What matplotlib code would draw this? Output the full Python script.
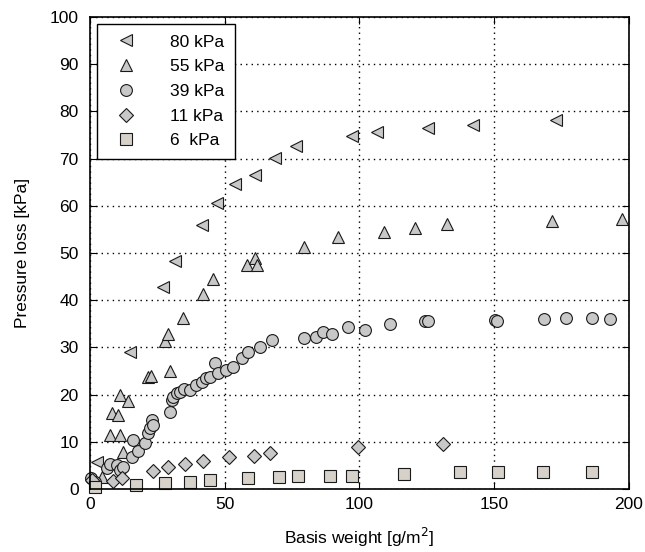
import matplotlib
matplotlib.use('Agg')
import matplotlib.pyplot as plt

plt.rcParams['font.family'] = ['Liberation Sans', 'DejaVu Sans']

# 80 kPa
x80 = [2.5, 14.8, 27.2, 31.5, 41.4, 47.3, 53.8, 61.2, 68.6, 76.3, 97.3, 106.4, 125.5, 142.0, 172.9]
y80 = [5.8, 29.1, 42.9, 48.4, 55.9, 60.6, 64.6, 66.5, 70.1, 72.7, 74.8, 75.7, 76.5, 77.1, 78.2]

# 55 kPa
x55 = [4.3, 7.4, 11.1, 12.4, 8.0, 10.5, 11.1, 14.2, 21.6, 22.5, 29.7, 27.8, 29.1, 34.6, 42.0,
       45.8, 58.1, 61.2, 62.0, 79.4, 91.9, 109.2, 120.6, 132.4, 171.5, 197.3]
y55 = [2.6, 11.4, 11.4, 7.9, 16.0, 15.7, 19.9, 18.7, 23.8, 24.0, 25.0, 31.4, 32.8, 36.2, 41.4,
       44.4, 47.5, 48.9, 47.5, 51.3, 53.3, 54.5, 55.4, 56.1, 56.8, 57.3]

# 39 kPa
x39 = [0.5, 2.0, 6.2, 7.4, 9.9, 11.1, 12.4, 15.5, 16.1, 17.9, 20.4, 21.6, 22.3, 22.9, 23.5,
       29.7, 30.3, 30.8, 32.2, 33.4, 35.0, 37.1, 39.5, 41.4, 43.0, 44.5, 46.4, 47.6, 50.5, 53.2,
       56.3, 58.7, 63.1, 67.4, 79.4, 83.9, 86.6, 89.7, 95.6, 102.0, 111.3, 124.3, 125.5, 150.5,
       151.2, 168.6, 176.5, 186.5, 193.0]
y39 = [2.3, 1.5, 4.5, 5.4, 5.1, 4.0, 4.7, 6.8, 10.4, 8.0, 9.7, 11.8, 12.9, 14.6, 13.5,
       16.4, 18.9, 19.5, 20.3, 20.6, 21.2, 21.0, 22.0, 22.7, 23.5, 23.8, 26.6, 24.5, 25.2, 25.9,
       27.7, 29.1, 30.1, 31.6, 31.9, 32.1, 33.3, 32.8, 34.4, 33.7, 35.0, 35.7, 35.6, 35.8,
       35.7, 36.0, 36.2, 36.3, 36.0]

# 11 kPa
x11 = [0.6, 8.6, 11.8, 23.5, 29.1, 35.2, 42.0, 51.6, 60.9, 66.8, 99.6, 130.9]
y11 = [1.9, 1.6, 2.3, 3.8, 4.7, 5.2, 6.0, 6.7, 7.1, 7.6, 9.0, 9.5]

# 6 kPa
x6 = [1.9, 17.1, 27.8, 37.1, 44.5, 58.7, 70.2, 77.1, 89.1, 97.1, 116.6, 137.3, 151.5, 168.2, 186.2]
y6 = [0.5, 0.8, 1.3, 1.5, 1.9, 2.4, 2.5, 2.8, 2.8, 2.8, 3.2, 3.5, 3.7, 3.5, 3.5]

GRAY = '#c8c8c8'
BEIGE = '#d6d2ca'
EDGE = '#1a1a1a'

fig = plt.figure(figsize=(6.45, 5.52), dpi=100)
ax = fig.add_axes([0.1395, 0.1141, 0.8355, 0.8551])

kw = dict(linestyle='none', markeredgecolor=EDGE, markeredgewidth=0.8, clip_on=False)
ax.plot(x80, y80, marker='<', ms=9, mfc=GRAY, label='80 kPa', **kw)
ax.plot(x55, y55, marker='^', ms=9, mfc=GRAY, label='55 kPa', **kw)
ax.plot(x39, y39, marker='o', ms=8.5, mfc=GRAY, label='39 kPa', **kw)
ax.plot(x11, y11, marker='D', ms=7, mfc=GRAY, label='11 kPa', **kw)
ax.plot(x6, y6, marker='s', ms=8.5, mfc=BEIGE, label='6  kPa', **kw)

ax.set_xlim(0, 200)
ax.set_ylim(0, 100)
ax.set_xticks([0, 50, 100, 150, 200])
ax.set_yticks(range(0, 101, 10))
ax.grid(True, linestyle=(0, (1, 3)), color='black', linewidth=1.0)
ax.set_axisbelow(True)
ax.tick_params(direction='in', top=True, right=True, labelsize=12.5, length=5)
ax.tick_params(axis='x', pad=6)
ax.tick_params(axis='y', pad=8)
for s in ax.spines.values():
    s.set_linewidth(1.2)

ax.set_xlabel('Basis weight [g/m$^2$]', fontsize=12.5, labelpad=10)
ax.set_ylabel('Pressure loss [kPa]', fontsize=12.5, labelpad=14)

leg = ax.legend(loc='upper left', fontsize=12.5, frameon=True, fancybox=False,
                edgecolor='black', framealpha=1, borderaxespad=0.4,
                handlelength=2.2, handletextpad=1.4, labelspacing=0.55, borderpad=0.6)
leg.get_frame().set_linewidth(1.0)

fig.savefig('out.png', dpi=100)
